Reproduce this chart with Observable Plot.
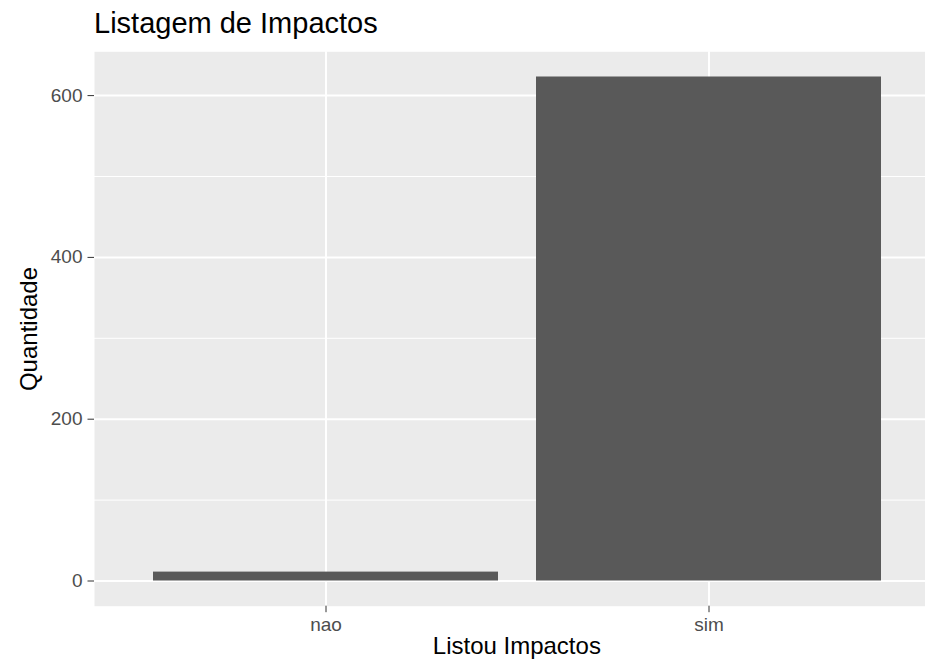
<!DOCTYPE html>
<html>
<head>
<meta charset="utf-8">
<script src="https://cdn.jsdelivr.net/npm/d3@7"></script>
<script src="https://cdn.jsdelivr.net/npm/@observablehq/plot@0.6"></script>
<style>
  html, body { margin: 0; padding: 0; background: #fff; overflow: hidden; }
  body { font-family: "Liberation Sans", Arial, Helvetica, sans-serif; width: 925px; height: 665px; }
  #title { position: relative; height: 45px; }
  #title span { position: absolute; left: 94px; top: 8.8px; font-size: 29px; line-height: 29px; color: #000; white-space: nowrap; }
  #chart { width: 925px; overflow: hidden; }
  #chart svg { display: block; max-width: none !important; }
</style>
</head>
<body>
<div id="title"><span>Listagem de Impactos</span></div>
<div id="chart"></div>
<script>
const categories = ["nao", "sim"];
const counts = [11, 623];
const yTicks = [0, 200, 400, 600];
const yMinor = [100, 300, 500];
const xTitle = "Listou Impactos";
const yTitle = "Quantidade";

const data = categories.map((c, i) => ({ cat: c, n: counts[i] }));
const ymax = d3.max(counts);
const pad = ymax * 0.05;

const plot = Plot.plot({
  width: 940,
  height: 620,
  marginLeft: 94,
  marginRight: 1.3,
  marginTop: 6.3,
  marginBottom: 59.3,
  style: { fontFamily: '"Liberation Sans", Arial, Helvetica, sans-serif', background: "transparent", maxWidth: "none" },
  x: { type: "band", domain: categories, paddingInner: 0.1, paddingOuter: 0.15, axis: null, label: null },
  y: { domain: [-pad, ymax + pad], axis: null, label: null },
  marks: [
    Plot.frame({ fill: "#EBEBEB", stroke: null }),
    Plot.ruleY(yMinor, { stroke: "#FFFFFF", strokeWidth: 1 }),
    Plot.ruleY(yTicks, { stroke: "#FFFFFF", strokeWidth: 2 }),
    Plot.gridX(categories, { stroke: "#FFFFFF", strokeWidth: 2, strokeOpacity: 1 }),
    Plot.barY(data, { x: "cat", y: "n", fill: "#595959" }),
    Plot.axisY(yTicks, { tickSize: 6.5, tickPadding: 5.5, fontSize: 19, color: "#4D4D4D", tickFormat: d => String(d), label: null }),
    Plot.axisX(categories, { tickSize: 6.5, tickPadding: 5, fontSize: 19, color: "#4D4D4D", label: null }),
    Plot.text([xTitle], { frameAnchor: "bottom", dy: 47.5, fontSize: 24, fill: "#000", text: d => d }),
    Plot.text([yTitle], { frameAnchor: "left", textAnchor: "middle", dx: -65, rotate: -90, fontSize: 24, fill: "#000", text: d => d })
  ]
});
document.getElementById("chart").appendChild(plot);
d3.select(plot).selectAll('[aria-label="y-axis tick"], [aria-label="x-axis tick"]').attr("stroke", "#333333");
</script>
</body>
</html>
